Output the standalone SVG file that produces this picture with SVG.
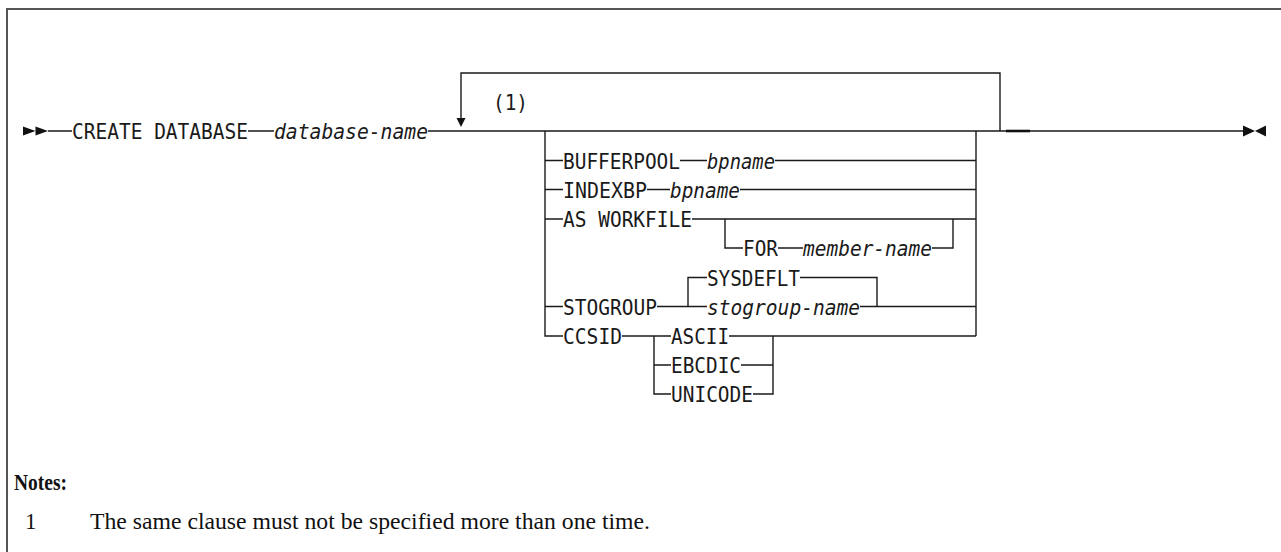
<svg xmlns="http://www.w3.org/2000/svg" width="1281" height="552" viewBox="0 0 1281 552">
<style>
.kw{font-family:"DejaVu Sans Mono","Liberation Mono",monospace;font-size:22px;fill:#1a1a1a}
.var{font-style:italic}
.ln{stroke:#1a1a1a;stroke-width:1.4;fill:none}
.frame{stroke:#555;stroke-width:2;fill:none}
.ah{fill:#111;stroke:none}
.note{font-family:"Liberation Serif","Times New Roman",serif;font-size:23px;fill:#111}
</style>
<rect width="1281" height="552" fill="#fff"/>
<path class="frame" d="M7,560 V9 H1290"/>

<g id="connectors">
  <polygon class="ah" points="23,126.5 23,135.5 35.5,131"/>
  <polygon class="ah" points="35.5,126.5 35.5,135.5 48,131"/>
  <polygon class="ah" points="1243,125.5 1243,136.5 1255,131"/>
  <polygon class="ah" points="1266,125.5 1266,136.5 1255,131"/>
  <path class="ln" d="M48,131 H72 M248,131 H274 M428,131 H1243"/>
  <path d="M1006,131 H1030" stroke="#111" stroke-width="2.6"/>
  <path class="ln" d="M461,118 V73 H1000 V131"/>
  <polygon class="ah" points="456.5,118 465.5,118 461,127"/>
  <path class="ln" d="M545,131 V336 H563 M545,160.5 H563 M545,189.5 H563 M545,219 H563 M545,306.5 H563"/>
  <path class="ln" d="M976,131 V336"/>
  <path class="ln" d="M680,160.5 H707 M775,160.5 H976"/>
  <path class="ln" d="M647,189.5 H670 M740,189.5 H976"/>
  <path class="ln" d="M692,219 H976 M725,219 V248 H743 M778,248 H803 M932,248 H953 V219"/>
  <path class="ln" d="M657,306.5 H707 M688,306.5 V277.5 H707 M800,277.5 H877 V306.5 M860,306.5 H976"/>
  <path class="ln" d="M622,336 H671 M654,336 V394 H671 M654,365 H671 M729,336 H976 M773,336 V394 H753 M741,365 H773"/>
</g>

<g id="create"><text class="kw" x="72" y="139" textLength="176" lengthAdjust="spacingAndGlyphs">CREATE DATABASE</text></g>
<g id="dbname"><text class="kw var" x="274" y="139" textLength="154" lengthAdjust="spacingAndGlyphs">database-name</text></g>
<g id="note-ref"><text class="kw" x="493" y="110" textLength="35" lengthAdjust="spacingAndGlyphs">(1)</text></g>

<g id="bufferpool">
  <text class="kw" x="563" y="168.5" textLength="117" lengthAdjust="spacingAndGlyphs">BUFFERPOOL</text>
  <text class="kw var" x="707" y="168.5" textLength="68" lengthAdjust="spacingAndGlyphs">bpname</text>
</g>
<g id="indexbp">
  <text class="kw" x="563" y="197.5" textLength="84" lengthAdjust="spacingAndGlyphs">INDEXBP</text>
  <text class="kw var" x="670" y="197.5" textLength="70" lengthAdjust="spacingAndGlyphs">bpname</text>
</g>
<g id="workfile">
  <text class="kw" x="563" y="227" textLength="129" lengthAdjust="spacingAndGlyphs">AS WORKFILE</text>
</g>
<g id="for-member">
  <text class="kw" x="743" y="256" textLength="35" lengthAdjust="spacingAndGlyphs">FOR</text>
  <text class="kw var" x="803" y="256" textLength="129" lengthAdjust="spacingAndGlyphs">member-name</text>
</g>
<g id="stogroup">
  <text class="kw" x="563" y="314.5" textLength="94" lengthAdjust="spacingAndGlyphs">STOGROUP</text>
</g>
<g id="sysdeflt"><text class="kw" x="707" y="285.5" textLength="93" lengthAdjust="spacingAndGlyphs">SYSDEFLT</text></g>
<g id="stogroup-name"><text class="kw var" x="707" y="314.5" textLength="153" lengthAdjust="spacingAndGlyphs">stogroup-name</text></g>
<g id="ccsid"><text class="kw" x="563" y="344" textLength="59" lengthAdjust="spacingAndGlyphs">CCSID</text></g>
<g id="ascii"><text class="kw" x="671" y="344" textLength="58" lengthAdjust="spacingAndGlyphs">ASCII</text></g>
<g id="ebcdic"><text class="kw" x="671" y="373" textLength="70" lengthAdjust="spacingAndGlyphs">EBCDIC</text></g>
<g id="unicode"><text class="kw" x="671" y="402" textLength="82" lengthAdjust="spacingAndGlyphs">UNICODE</text></g>

<g id="notes">
  <text class="note" x="14" y="490" font-weight="bold" font-size="22" textLength="53" lengthAdjust="spacingAndGlyphs">Notes:</text>
  <text class="note" x="25" y="529">1</text>
  <text class="note" x="90" y="529" textLength="560" lengthAdjust="spacingAndGlyphs">The same clause must not be specified more than one time.</text>
</g>
</svg>
